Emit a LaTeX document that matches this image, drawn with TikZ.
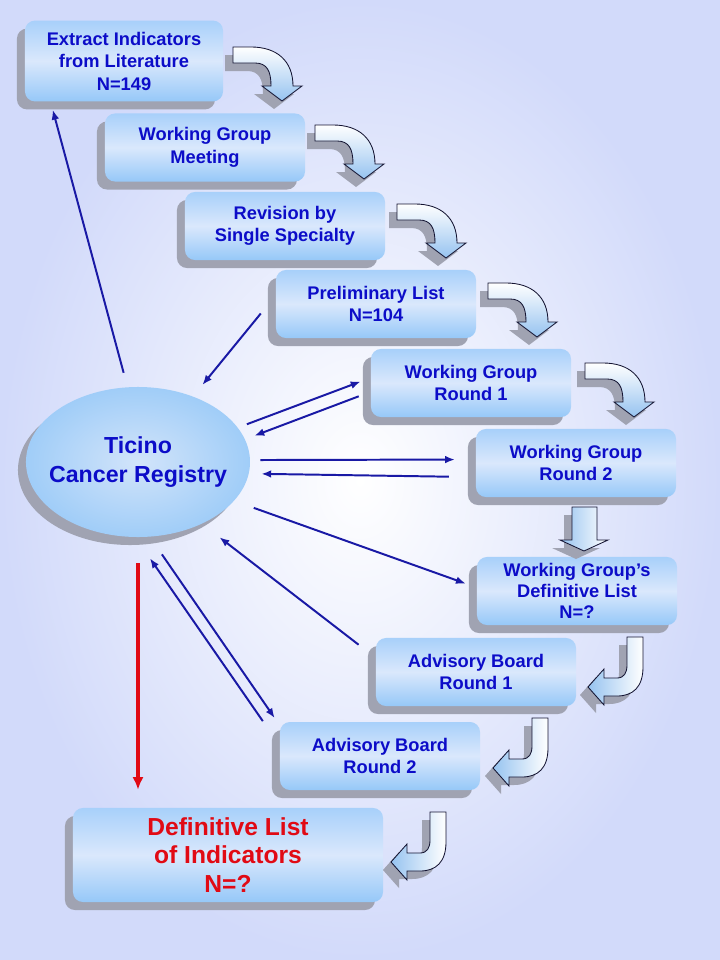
\documentclass[tikz,border=0pt]{standalone}
\usepackage{fontspec}
\setmainfont{Liberation Sans}
\usetikzlibrary{arrows.meta,shadows,shapes.geometric}

\begin{document}
\begin{tikzpicture}[x=0.025cm, y=-0.025cm,
    stage/.style={rectangle, rounded corners=0.25cm, minimum width=5cm,
        minimum height=1.7cm, inner sep=2pt, align=center, text=mytext,
        font=\bfseries\fontsize{13}{16}\selectfont,
        top color=boxtop, bottom color=boxbot, middle color=boxmid,
        drop shadow={shadow xshift=-0.2cm, shadow yshift=-0.2cm, fill=myshadow, opacity=1}},
    registry/.style={ellipse, minimum width=5.6cm, minimum height=3.75cm, inner sep=0pt,
        shading=radial, inner color=regin, outer color=regout,
        drop shadow={shadow xshift=-0.2cm, shadow yshift=-0.2cm, fill=myshadow, opacity=1}},
    regtext/.style={align=center, text=mytext, font=\bfseries\fontsize{16.5}{20}\selectfont},
    link/.style={draw=linkblue, line width=1.4pt, -{Latex[length=7pt,width=5.5pt]}},
    finalarrow/.style={draw=myred, line width=2.8pt, -{Latex[length=9pt,width=8pt]}},
    bendright/.pic={
        \fill[myshadow, shift={(-8,8)}] (0,0) -- (18,0) .. controls (44,0) and (60,14) .. (60,39)
            -- (69,39) -- (49,54) -- (29,39) -- (38,39) .. controls (38,24) and (34,16) .. (22,16) -- (0,16) -- cycle;
        \shade[top color=white, bottom color=arrowblue, draw=arrowline, line width=0.6pt]
            (0,0) -- (18,0) .. controls (44,0) and (60,14) .. (60,39)
            -- (69,39) -- (49,54) -- (29,39) -- (38,39) .. controls (38,24) and (34,16) .. (22,16) -- (0,16) -- cycle;
    },
    bendleft/.pic={
        \fill[myshadow, shift={(-8,8)}] (0,0) -- (16,0) -- (16,30) .. controls (16,50) and (6,59) .. (-10,59)
            -- (-23,59) -- (-23,68) -- (-39,50) -- (-23,32) -- (-23,41) -- (-10,41) .. controls (-3,41) and (0,36) .. (0,28) -- cycle;
        \shade[left color=arrowblue, right color=white, draw=arrowline, line width=0.6pt]
            (0,0) -- (16,0) -- (16,30) .. controls (16,50) and (6,59) .. (-10,59)
            -- (-23,59) -- (-23,68) -- (-39,50) -- (-23,32) -- (-23,41) -- (-10,41) .. controls (-3,41) and (0,36) .. (0,28) -- cycle;
    },
    dropdown/.pic={
        \fill[myshadow, shift={(-8,8)}] (0,0) -- (25,0) -- (25,33) -- (36,33) -- (12,44) -- (-12,33) -- (0,33) -- cycle;
        \shade[left color=arrowblue, right color=white, draw=arrowline, line width=0.6pt]
            (0,0) -- (25,0) -- (25,33) -- (36,33) -- (12,44) -- (-12,33) -- (0,33) -- cycle;
    }]
    \definecolor{bgblue}{RGB}{210,218,250}
    \definecolor{boxtop}{RGB}{168,208,250}
    \definecolor{boxmid}{RGB}{218,232,252}
    \definecolor{boxbot}{RGB}{150,200,248}
    \definecolor{regin}{RGB}{210,228,250}
    \definecolor{regout}{RGB}{160,205,248}
    \definecolor{myshadow}{RGB}{160,163,178}
    \definecolor{mytext}{RGB}{12,12,200}
    \definecolor{myred}{RGB}{225,10,20}
    \definecolor{linkblue}{RGB}{25,25,165}
    \definecolor{arrowblue}{RGB}{150,195,240}
    \definecolor{arrowline}{RGB}{20,20,50}

    \useasboundingbox (0,0) rectangle (720,960);
    \shade[inner color=white, outer color=bgblue] (0,0) rectangle (720,960);

    % flow of the stages
    \node[stage, minimum width=4.95cm, minimum height=2.02cm] (lit) at (124,61) {Extract Indicators\\from Literature\\N=149};
    \node[stage] (meet) at (205,147.5) {Working Group\\Meeting};
    \node[stage] (rev) at (285,226) {Revision by\\Single Specialty};
    \node[stage] (prelim) at (376,304) {Preliminary List\\N=104};
    \node[stage] (wgone) at (471,383) {Working Group\\Round 1};
    \node[stage] (wgtwo) at (576,463) {Working Group\\Round 2};
    \node[stage, font=\bfseries\fontsize{13}{15}\selectfont] (wgdef) at (577,591) {Working Group’s\\Definitive List\\N=?};
    \node[stage] (abone) at (476,672) {Advisory Board\\Round 1};
    \node[stage] (abtwo) at (380,756) {Advisory Board\\Round 2};
    \node[stage, minimum width=7.75cm, minimum height=2.35cm, text=myred,
        font=\bfseries\fontsize{17.5}{20.5}\selectfont] (final) at (228,855) {Definitive List\\of Indicators\\N=?};

    \pic at (233,47) {bendright};
    \pic at (315,125) {bendright};
    \pic at (397,204) {bendright};
    \pic at (488,283) {bendright};
    \pic at (585,363) {bendright};
    \pic at (572,507) {dropdown};
    \pic at (627,637) {bendleft};
    \pic at (532,718) {bendleft};
    \pic at (430,812) {bendleft};

    % registry in the middle
    \node[registry] (reg) at (138,462) {};
    \node[regtext] (regname) at (reg.center) {Ticino\\Cancer Registry};

    \draw[link, shorten <=0.37cm, shorten >=0.21cm] (reg.98) -- (lit.209);
    \draw[link, shorten <=0.59cm, shorten >=0.37cm] (prelim.175) -- (reg.50);
    \draw[link, shorten <=0.24cm, shorten >=0.27cm] (reg.19) -- (wgone.177);
    \draw[link, shorten <=0.32cm, shorten >=0.25cm] (wgone.185) -- (reg.12);
    \draw[link, shorten <=0.25cm, shorten >=0.52cm] (reg.1) -- (wgtwo.178);
    \draw[link, shorten <=0.67cm, shorten >=0.31cm] (wgtwo.188) -- (reg.354);
    \draw[link, shorten <=0.52cm, shorten >=0.29cm] (reg.338) -- (wgdef.178);
    \draw[link, shorten <=0.54cm, shorten >=0.55cm] (abone.172) -- (reg.316);
    \draw[link, shorten <=0.53cm, shorten >=0.22cm] (reg.279) -- (abtwo.163);
    \draw[link, shorten <=0.74cm, shorten >=0.64cm] (abtwo.174) -- (reg.268);
    \draw[finalarrow, shorten <=0.65cm, shorten >=0.45cm] (reg.south) -- (reg.south |- final.north);
\end{tikzpicture}
\end{document}
